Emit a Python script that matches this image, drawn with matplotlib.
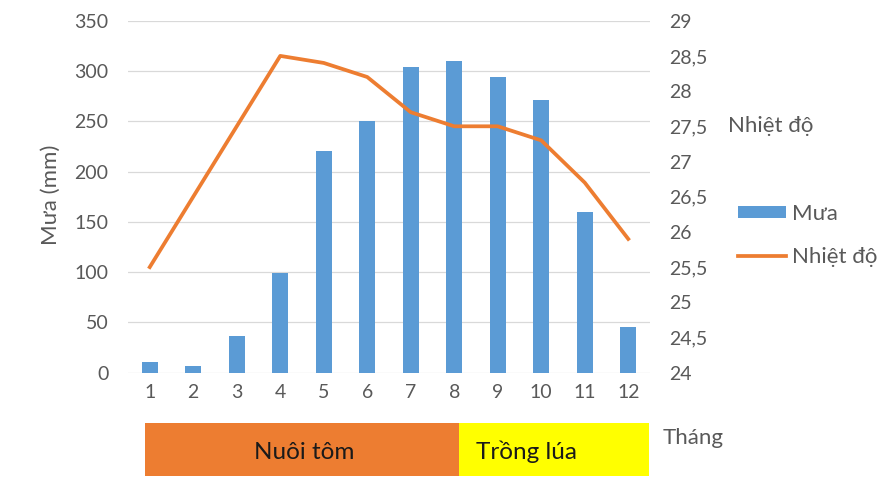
import matplotlib
matplotlib.use("Agg")
import matplotlib.pyplot as plt

months = [1, 2, 3, 4, 5, 6, 7, 8, 9, 10, 11, 12]
month_labels = [str(m) for m in months]
rain = [11, 7, 36, 99, 220, 250, 304, 310, 294, 271, 160, 45]
temp = [25.5, 26.5, 27.5, 28.5, 28.4, 28.2, 27.7, 27.5, 27.5, 27.3, 26.7, 25.9]
left_ticks = [0, 50, 100, 150, 200, 250, 300, 350]
right_ticks = [24, 24.5, 25, 25.5, 26, 26.5, 27, 27.5, 28, 28.5, 29]
right_tick_labels = ["24", "24,5", "25", "25,5", "26", "26,5", "27", "27,5", "28", "28,5", "29"]
phases = ["Nuôi tôm", "Trồng lúa"]
phase_ranges = [(0.90, 8.11), (8.11, 12.48)]
phase_colors = ["#ED7D31", "#FFFF00"]

plt.rcParams['font.family'] = ['Lato', 'DejaVu Sans']
GRAY = "#595959"
W, H = 881, 480
fig = plt.figure(figsize=(W / 100, H / 100), dpi=100)

ax = fig.add_axes([128 / W, 1 - 372.7 / H, 522 / W, 352 / H])
bars = ax.bar(months, rain, width=0.37, color="#5B9BD5", label="Mưa", zorder=2)
ax.set_xlim(0.5, 12.5)
ax.set_ylim(0, 350)
ax.set_yticks(left_ticks)
ax.set_xticks(months)
ax.set_xticklabels(month_labels)
ax.grid(axis="y", color="#D9D9D9", linewidth=0.9, zorder=0)
ax.set_axisbelow(True)
for s in ax.spines.values():
    s.set_visible(False)
ax.tick_params(axis="both", length=0, colors=GRAY, labelsize=14)
ax.tick_params(axis="y", pad=14)
ax.tick_params(axis="x", pad=8)
fig.text(51 / W, 1 - 195 / H, "Mưa (mm)", color=GRAY, fontsize=16, rotation=90,
         ha="center", va="center")

ax2 = ax.twinx()
line, = ax2.plot(months, temp, color="#ED7D31", linewidth=2.7, label="Nhiệt độ",
                 solid_joinstyle="round", zorder=3)
ax2.set_ylim(24, 29)
ax2.set_yticks(right_ticks)
ax2.set_yticklabels(right_tick_labels)
for s in ax2.spines.values():
    s.set_visible(False)
ax2.tick_params(axis="y", length=0, colors=GRAY, labelsize=14, pad=14)
fig.text(728 / W, 1 - 126 / H, "Nhiệt độ", color=GRAY, fontsize=16, va="center", ha="left")

fig.legend(handles=[bars, line], labels=["Mưa", "Nhiệt độ"], loc="upper left",
           bbox_to_anchor=(738 / W, 1 - 204 / H), frameon=False, fontsize=16,
           borderpad=0, borderaxespad=0, handlelength=2.16, handleheight=0.5,
           handletextpad=0.27, labelspacing=1.05, labelcolor=GRAY)

axb = fig.add_axes([128 / W, 1 - 476 / H, 522 / W, 53 / H])
axb.set_xlim(0.5, 12.5)
axb.set_ylim(0, 1)
axb.axis("off")
text_x = [4.56, 9.65]
for (a, b), c, name, tx in zip(phase_ranges, phase_colors, phases, text_x):
    axb.axvspan(a, b, color=c, lw=0)
    axb.text(tx, 0.45, name, ha="center", va="center", fontsize=17.5, color="#1A1A1A")
fig.text(663 / W, 1 - 438 / H, "Tháng", color=GRAY, fontsize=16, va="center", ha="left")

fig.savefig("out.png", dpi=100)
